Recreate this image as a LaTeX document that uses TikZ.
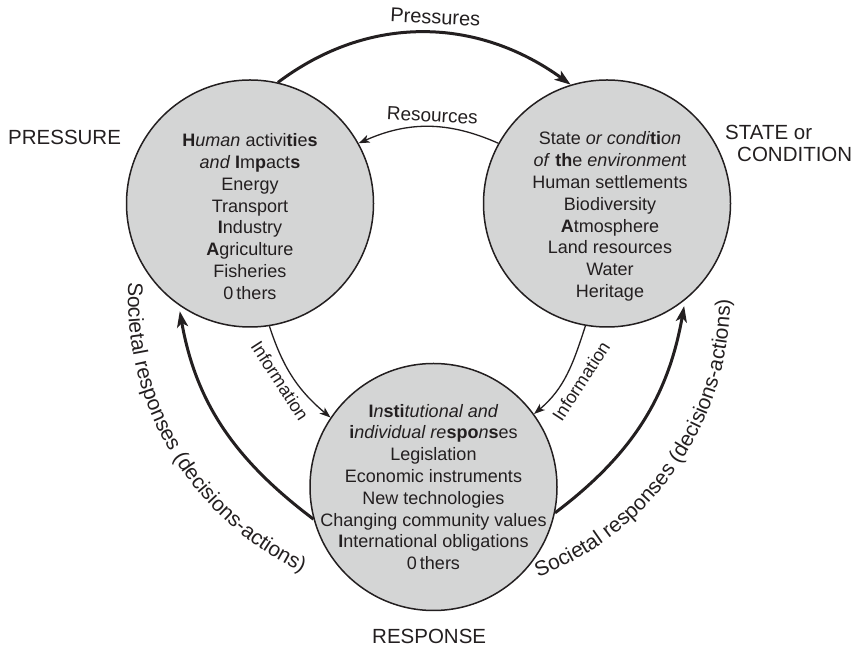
\documentclass[tikz,border=0pt]{standalone}
\usepackage{fontspec}
\setmainfont{Liberation Sans}
\usetikzlibrary{arrows.meta,decorations.text}
\definecolor{ink}{RGB}{35,31,32}
\definecolor{disc}{RGB}{212,213,213}
\begin{document}
\begin{tikzpicture}[x=1pt,y=1pt,
  hub/.style={circle, draw=ink, line width=1.5pt, fill=disc, minimum size=247pt, inner sep=0pt},
  body/.style={align=center, text=ink, font=\fontsize{18}{21.8}\selectfont},
  tag/.style={text=ink, font=\fontsize{20.5}{24}\selectfont, inner sep=0pt},
  flowlabel/.style={text=ink, font=\fontsize{19}{22}\selectfont, inner sep=0pt},
  infolabel/.style={text=ink, font=\fontsize{18}{20}\selectfont, inner sep=0pt},
  bigarrow/.style={draw=ink, line width=3pt, -{Stealth[length=16pt,width=11pt,inset=4pt]}},
  smallarrow/.style={draw=ink, line width=1.3pt, -{Stealth[length=11pt,width=8pt,inset=3pt]}},
  arctext/.style={decorate, decoration={text along path, text format delimiters={|}{|},
      text={|\fontsize{21}{21}\selectfont|Societal responses (decisions-actions)},
      text color=ink, text align={left}}},
]
\useasboundingbox (0,0) rectangle (860,648);

% discs
\node[hub] (P) at (250,444.5) {};
\node[hub] (S) at (607,444.5) {};
\node[hub] (R) at (433.5,161) {};

% disc texts
\node[body] (Pt) at (250,431.5) {\textbf{H}\textit{uman} activi\textbf{ti}e\textbf{s}\\\textit{and} \textbf{I}m\textbf{p}act\textbf{s}\\Energy\\Transport\\\textbf{I}ndustry\\\textbf{A}griculture\\Fisheries\\0\,thers};
\node[body] (St) at (610,431.5) {State \textit{or condi}\textbf{ti}\textit{on}\\\textit{of} \textbf{th}e \textit{environmen}t\\Human settlements\\Biodiversity\\\textbf{A}tmosphere\\Land resources\\Water\\Heritage};
\node[body] (Rt) at (433.5,161) {\textbf{I}\textit{n}\textbf{sti}\textit{tutional and}\\\textbf{i}\textit{ndividual re}\textbf{spo}\textit{n}\textbf{s}es\\Legislation\\Economic instruments\\New technologies\\Changing community values\\\textbf{I}nternational obligations\\0\,thers};

% outer labels
\node[tag, anchor=base west] (pl) at (8,503) {PRESSURE};
\node[tag, anchor=base west] (sl1) at (725,508) {STATE or};
\node[tag, anchor=base west] (sl2) at (737,486) {CONDITION};
\node[tag, anchor=base west] (rl) at (372,4) {RESPONSE};

% connectors
\draw[bigarrow] (P.77) to[out=37,in=144] (S.107);
\draw[smallarrow] (S.151) to[out=156,in=24] (P.29);
\draw[smallarrow] (P.-81) to[out=-72,in=140] (R.146);
\draw[smallarrow] (S.-100) to[out=-108,in=40] (R.36.5);
\draw[bigarrow, shorten >=6pt] (R.195) to[out=143,in=-80] (P.235);
\draw[bigarrow, shorten >=6pt] (R.-12) to[out=37,in=-100] (S.-51);

% connector labels
\node[flowlabel, font=\fontsize{20}{22}\selectfont, anchor=base, rotate=-3] (pr) at (435,624) {Pressures};
\node[flowlabel, anchor=base, rotate=-3] (rs) at (432,526) {Resources};
\node[infolabel, rotate=-57] (i1) at (280,267) {Information};
\node[infolabel, rotate=57] (i2) at (581,267) {Information};

% curved societal labels
\path[arctext] (128.4,365.9) arc[start angle=177, end angle=262, radius=303];
\path[arctext] (538.2,70.9) arc[start angle=-69, end angle=10, radius=299];
\end{tikzpicture}
\end{document}
